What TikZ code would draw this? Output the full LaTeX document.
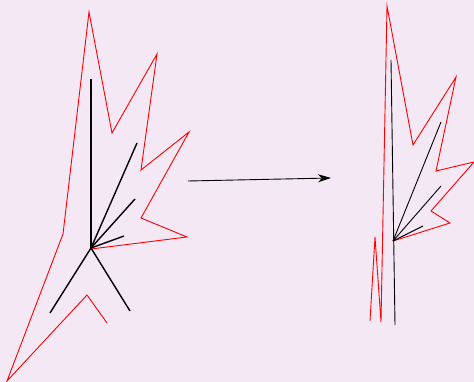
\documentclass[tikz,border=0pt]{standalone}
\usetikzlibrary{arrows.meta}
\definecolor{bg}{RGB}{245,232,245}
\tikzset{
  outline/.style={draw=red, line width=0.9pt, line join=miter},
  skel/.style={draw=black, line width=1.4pt},
  skelthin/.style={draw=black, line width=0.9pt},
  mapsto/.style={draw=black, line width=0.9pt, -{Stealth[length=13pt,width=8pt,inset=4pt]}}
}
\begin{document}
\begin{tikzpicture}[x=1pt,y=-1pt]
  \fill[bg] (0,0) rectangle (474,382);
  \useasboundingbox (0,0) rectangle (474,382);

  % original leaf: outline and skeleton
  \draw[outline] (107,323) -- (87,295) -- (7,381) -- (63,234) -- (89,12)
    -- (112,133) -- (157,54) -- (141,170) -- (189,132) -- (141,218)
    -- (187,237) -- (91,249);
  \coordinate (j1) at (91,248);
  \draw[skel] (j1) -- (91,79);
  \draw[skel] (j1) -- (137,143);
  \draw[skel] (j1) -- (135,199);
  \draw[skel] (j1) -- (124,236);
  \draw[skel] (j1) -- (50,313);
  \draw[skel] (j1) -- (130,311);

  % transformation arrow
  \coordinate (a0) at (188,181);
  \coordinate (a1) at (331,178);
  \draw[mapsto] (a0) -- (a1);

  % deformed leaf: outline and skeleton
  \draw[outline] (370,321) -- (375,237) -- (381,322) -- (387,6) -- (413,145)
    -- (456,77) -- (436,171) -- (474,162) -- (431,211) -- (450,223)
    -- (393,241);
  \coordinate (j2) at (393,241);
  \draw[skelthin] (391,60) -- (395,325);
  \draw[skelthin] (j2) -- (441,122);
  \draw[skelthin] (j2) -- (441,186);
  \draw[skelthin] (j2) -- (423,226);
\end{tikzpicture}
\end{document}
